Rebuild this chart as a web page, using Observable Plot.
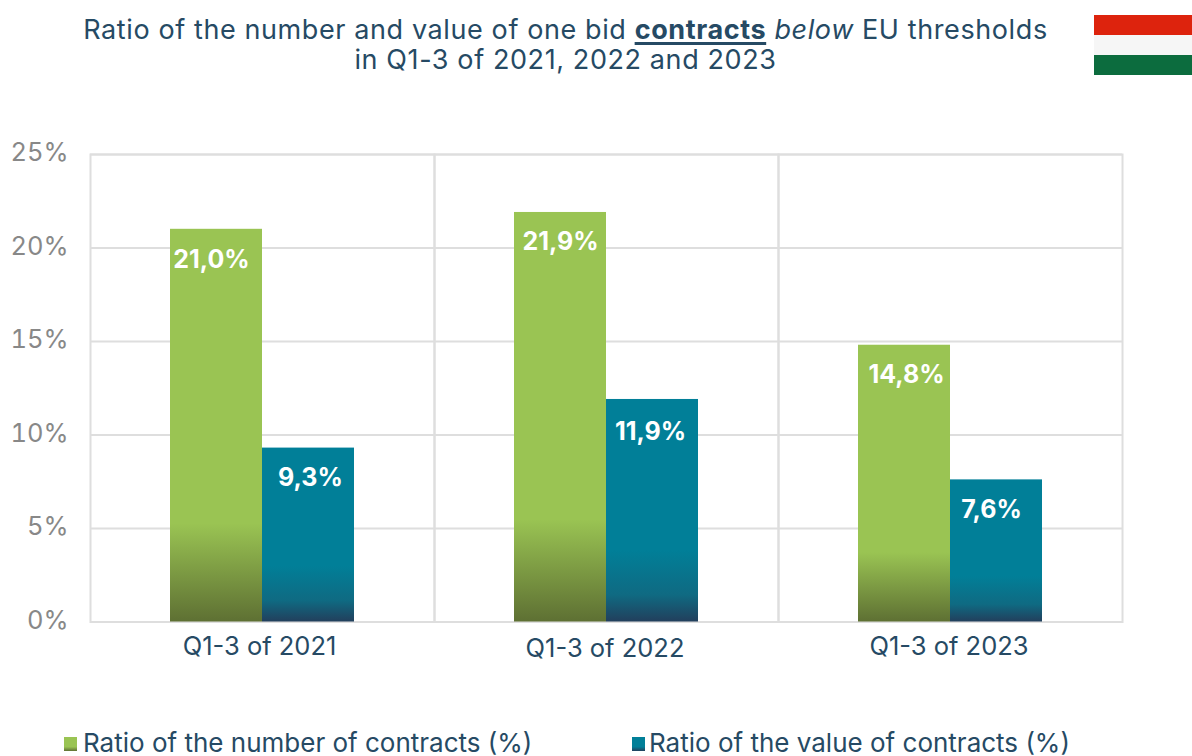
<!DOCTYPE html>
<html>
<head>
<meta charset="utf-8">
<script src="https://cdn.jsdelivr.net/npm/d3@7"></script>
<script src="https://cdn.jsdelivr.net/npm/@observablehq/plot@0.6"></script>
<style>
html,body{margin:0;padding:0;background:#fff;}
body{width:1192px;height:756px;position:relative;overflow:hidden;font-family:Inter,"Noto Sans",sans-serif;color:#264a64;}
#title{position:absolute;left:0;top:15px;width:1131px;text-align:center;font-size:27px;letter-spacing:.6px;line-height:30px;white-space:nowrap;}
#title u{font-weight:700;text-decoration-thickness:3px;text-underline-offset:3px;}
#flag{position:absolute;left:1094px;top:15px;width:98px;height:60px;background:linear-gradient(#dd230d 0 20px,#f6f6f6 20px 40px,#0c6c3e 40px 60px);}
#chart{position:absolute;left:0;top:110px;}
.lg{position:absolute;top:730px;font-size:26px;line-height:26px;white-space:nowrap;}
.sw{position:absolute;top:737px;width:13px;height:14px;}
</style>
</head>
<body>
<div id="title">Ratio of the number and value of one bid <u>contracts</u> <i>below</i> EU thresholds<br>in Q1-3 of 2021, 2022 and 2023</div>
<div id="flag"></div>
<div id="chart"></div>
<div class="sw" style="left:64px;background:linear-gradient(#9ac453 0 70%,#5e7033)"></div>
<div class="lg" style="left:83px" id="lg1"></div>
<div class="sw" style="left:632px;background:linear-gradient(#017f98 0 70%,#223f5c)"></div>
<div class="lg" style="left:649px" id="lg2"></div>
<script>
const periods = ["Q1-3 of 2021", "Q1-3 of 2022", "Q1-3 of 2023"];
const seriesNames = ["Ratio of the number of contracts (%)", "Ratio of the value of contracts (%)"];
const numberRatio = [21.0, 21.9, 14.8];
const valueRatio = [9.3, 11.9, 7.6];
const yTicks = [0, 5, 10, 15, 20, 25];

document.getElementById("lg1").textContent = seriesNames[0];
document.getElementById("lg2").textContent = seriesNames[1];

const rows = (vals, s) => vals.map((v, i) => ({period: periods[i], series: s, value: v}));
const numberRows = rows(numberRatio, seriesNames[0]);
const valueRows = rows(valueRatio, seriesNames[1]);
const allRows = numberRows.concat(valueRows);

// label placement as in the reference (pixel nudges, not data)
const labelDx = [-5, 0, 2, 2, -2, -5];
const labelDy = [31, 30, 30, 30, 33, 30];
const periodDy = [25, 27, 25];
const periodDx = [-3, -1.5, -1.5];

const defs = () => {
  const d = d3.create("svg:defs");
  const mk = (id, stops) => {
    const g = d.append("linearGradient").attr("id", id).attr("x1", 0).attr("x2", 0).attr("y1", 0).attr("y2", 1);
    stops.forEach(([o, c]) => g.append("stop").attr("offset", o).attr("stop-color", c));
  };
  mk("gradNumber", [["75%", "#9ac453"], ["100%", "#5e7033"]]);
  mk("gradValue", [["68%", "#017f98"], ["88%", "#0f6a82"], ["100%", "#223f5c"]]);
  return d.node();
};

const grey = "#dedede";

const chart = Plot.plot({
  width: 1192,
  height: 580,
  marginLeft: 90,
  marginRight: 70,
  marginTop: 44,
  marginBottom: 68.5,
  style: {background: "transparent", fontFamily: "Inter, 'Noto Sans', sans-serif", overflow: "visible"},
  fx: {domain: periods, padding: 0, axis: null},
  x: {domain: seriesNames, paddingInner: 0, paddingOuter: 0.85, axis: null},
  y: {domain: [0, 25], axis: null},
  marks: [
    defs,
    Plot.gridY(yTicks, {stroke: grey, strokeOpacity: 1, strokeWidth: 2}),
    Plot.frame({stroke: grey, strokeWidth: 2}),
    Plot.axisY(yTicks, {anchor: "left", tickSize: 0, tickPadding: 22, dy: -1.5, fontSize: 25.5, fill: "#888888", label: null, tickFormat: d => d + "%"}),
    ...periods.map((p, i) => Plot.text([p], {
      fx: d => d, text: d => d, frameAnchor: "bottom", lineAnchor: "middle",
      dx: periodDx[i], dy: periodDy[i], fontSize: 25.5, fill: "#264a64"
    })),
    Plot.barY(numberRows, {fx: "period", x: "series", y: "value", fill: "url(#gradNumber)"}),
    Plot.barY(valueRows, {fx: "period", x: "series", y: "value", fill: "url(#gradValue)"}),
    ...allRows.map((row, i) => Plot.text([row], {
      fx: "period", x: "series", y: "value",
      text: d => d.value.toFixed(1).replace(".", ",") + "%",
      dx: labelDx[i], dy: labelDy[i], fill: "white", fontSize: 25, fontWeight: 700
    }))
  ]
});
document.getElementById("chart").appendChild(chart);
</script>
</body>
</html>
